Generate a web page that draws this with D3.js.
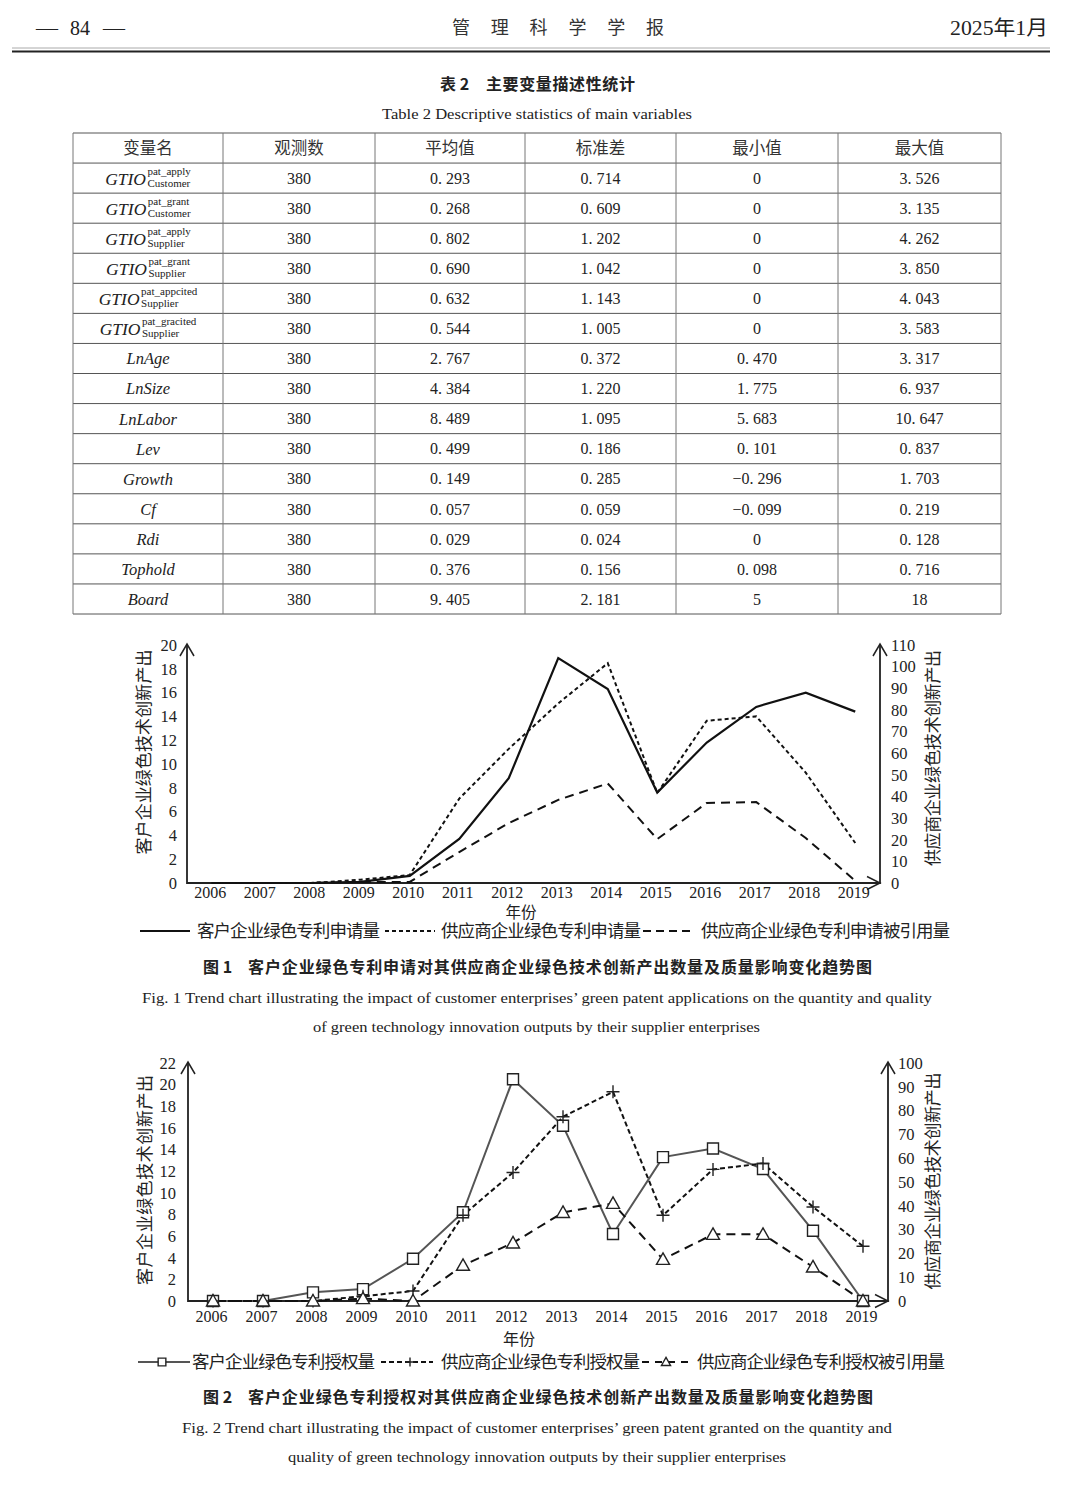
<!DOCTYPE html>
<html><head><meta charset="utf-8">
<script src="https://cdn.jsdelivr.net/npm/d3@7"></script>
<style>
body{margin:0;background:#fff;}
svg{display:block;}
</style></head>
<body><svg id="page" width="1079" height="1490"></svg>
<script>
// ---------------- DATA ----------------
const tableHeaders = ["变量名","观测数","平均值","标准差","最小值","最大值"];
const varBase = ["GTIO","GTIO","GTIO","GTIO","GTIO","GTIO","LnAge","LnSize","LnLabor","Lev","Growth","Cf","Rdi","Tophold","Board"];
const varSup  = ["pat_apply","pat_grant","pat_apply","pat_grant","pat_appcited","pat_gracited","","","","","","","","",""];
const varSub  = ["Customer","Customer","Supplier","Supplier","Supplier","Supplier","","","","","","","","",""];
const obsCount = ["380","380","380","380","380","380","380","380","380","380","380","380","380","380","380"];
const means = ["0.293","0.268","0.802","0.690","0.632","0.544","2.767","4.384","8.489","0.499","0.149","0.057","0.029","0.376","9.405"];
const sds   = ["0.714","0.609","1.202","1.042","1.143","1.005","0.372","1.220","1.095","0.186","0.285","0.059","0.024","0.156","2.181"];
const mins  = ["0","0","0","0","0","0","0.470","1.775","5.683","0.101","-0.296","-0.099","0","0.098","5"];
const maxs  = ["3.526","3.135","4.262","3.850","4.043","3.583","3.317","6.937","10.647","0.837","1.703","0.219","0.128","0.716","18"];

const years = ["2006","2007","2008","2009","2010","2011","2012","2013","2014","2015","2016","2017","2018","2019"];

// Figure 1 (applications)
const applyCustomer = [0,0,0,0.1,0.6,3.7,8.8,18.9,16.3,7.6,11.8,14.8,16.0,14.4];      // left axis
const applySupplier = [0,0,0,1.5,3.7,39,62,83,101.6,41.6,75,77,51,18.5];               // right axis
const applyCited    = [0,0,0,0.5,0.5,14.3,27.7,38.4,46,20.3,37,37.4,20.8,1];           // right axis
const fig1LeftTicks  = [0,2,4,6,8,10,12,14,16,18,20];
const fig1RightTicks = [0,10,20,30,40,50,60,70,80,90,100,110];

// Figure 2 (grants)
const grantCustomer = [0,0,0.8,1.1,3.9,8.2,20.5,16.2,6.2,13.3,14.1,12.2,6.5,0];        // left axis
const grantSupplier = [0,0,0,2,4.2,36,54,77.4,87.9,36,55.3,57.8,39.5,23];              // right axis
const grantCited    = [0,0,0,1,0,15,24.4,37.2,41,17.5,28,28,14.3,0];                   // right axis
const fig2LeftTicks  = [0,2,4,6,8,10,12,14,16,18,20,22];
const fig2RightTicks = [0,10,20,30,40,50,60,70,80,90,100];

// ---------------- DRAW ----------------
const SERIF = '"Liberation Serif","Times New Roman","Noto Sans CJK SC",serif';
const CJK = '"Noto Sans CJK SC","Noto Sans CJK JP",sans-serif';
const INK = "#222";
const svg = d3.select("#page");
svg.append("rect").attr("width",1079).attr("height",1490).attr("fill","#fff");

function txt(p, x, cy, s, o = {}) {
  const t = p.append("text").attr("x", x).attr("y", cy).attr("dy", o.dy || "0.36em")
    .attr("font-family", o.ff || SERIF).attr("font-size", o.fs || 16)
    .attr("fill", o.fill || INK).attr("text-anchor", o.anchor || "start")
    .attr("font-weight", o.fw || "normal").text(s);
  if (o.italic) t.attr("font-style", "italic");
  if (o.len) t.attr("textLength", o.len).attr("lengthAdjust", o.adj || "spacingAndGlyphs");
  return t;
}

// Header
txt(svg, 36, 28, "—", {fs: 20, len: 22});
txt(svg, 80, 28, "84", {fs: 20, anchor: "middle"});
txt(svg, 103, 28, "—", {fs: 20, len: 22});
txt(svg, 452, 28, "管理科学学报", {ff: CJK, fs: 18, len: 212, adj: "spacing", fill: "#333"});
txt(svg, 950, 28, "2025年1月", {fs: 20, len: 98, adj: "spacingAndGlyphs"});
svg.append("line").attr("x1", 12).attr("x2", 1050).attr("y1", 48).attr("y2", 48).attr("stroke", "#aaa").attr("stroke-width", 1);
svg.append("line").attr("x1", 12).attr("x2", 1050).attr("y1", 51.5).attr("y2", 51.5).attr("stroke", "#222").attr("stroke-width", 2);

// Table title
txt(svg, 440, 84, "表 2", {ff: CJK, fs: 16, fw: "bold"});
txt(svg, 486, 84, "主要变量描述性统计", {ff: CJK, fs: 16, fw: "bold", len: 149, adj: "spacing"});
txt(svg, 382, 113, "Table 2 Descriptive statistics of main variables", {fs: 15.5, len: 310});

// Table
const colX = [73, 223, 375, 525, 676, 838, 1001];
const tTop = 133, tBot = 614, nRows = 16, rowH = (tBot - tTop) / nRows;
const tg = svg.append("g");
d3.range(nRows + 1).forEach(i => {
  tg.append("line").attr("x1", colX[0]).attr("x2", colX[6]).attr("y1", tTop + i * rowH).attr("y2", tTop + i * rowH)
    .attr("stroke", "#555").attr("stroke-width", 1);
});
colX.forEach(cx => {
  tg.append("line").attr("x1", cx).attr("x2", cx).attr("y1", tTop).attr("y2", tBot).attr("stroke", "#777").attr("stroke-width", 1);
});
const colC = d3.range(6).map(i => (colX[i] + colX[i + 1]) / 2);
tableHeaders.forEach((h, i) => txt(tg, colC[i], tTop + rowH / 2, h, {ff: CJK, fs: 16.5, anchor: "middle", fill: "#333"}));
const fmt = s => s.replace(".", ". ").replace("-", "−");
const cols = [obsCount, means, sds, mins, maxs];
varBase.forEach((b, r) => {
  const cy = tTop + rowH * (r + 1.5);
  if (varSup[r]) {
    const g = tg.append("g");
    const t1 = g.append("text").attr("x", 0).attr("y", 6.5).attr("font-family", SERIF).attr("font-style", "italic").attr("font-size", 17.5).attr("fill", INK).text(b);
    const w1 = t1.node().getComputedTextLength();
    const t2 = g.append("text").attr("x", w1 + 1.5).attr("y", -3.5).attr("font-family", SERIF).attr("font-size", 11).attr("fill", INK).text(varSup[r]);
    const t3 = g.append("text").attr("x", w1 + 1.5).attr("y", 8.5).attr("font-family", SERIF).attr("font-size", 11).attr("fill", INK).text(varSub[r]);
    const tw = w1 + 1.5 + Math.max(t2.node().getComputedTextLength(), t3.node().getComputedTextLength());
    g.attr("transform", `translate(${colC[0] - tw / 2},${cy})`);
  } else {
    txt(tg, colC[0], cy, b, {fs: 16.5, italic: true, anchor: "middle"});
  }
  cols.forEach((arr, k) => txt(tg, colC[k + 1], cy, fmt(arr[r]), {fs: 16, anchor: "middle"}));
});

// ---------------- Charts ----------------
function chevronUp(g, x, y) {
  g.append("path").attr("d", `M${x - 7},${y + 12}L${x},${y}L${x + 7},${y + 12}`).attr("fill", "none").attr("stroke", INK).attr("stroke-width", 1.5);
}
function chevronRight(g, x, y) {
  g.append("path").attr("d", `M${x - 13},${y - 6.5}L${x},${y}L${x - 13},${y + 6.5}`).attr("fill", "none").attr("stroke", INK).attr("stroke-width", 1.5);
}
const markerPath = {
  square: "M-5.5,-5.5H5.5V5.5H-5.5Z",
  plus: "M-6.5,0H6.5M0,-6.5V6.5",
  tri: "M0,-6.5L6.5,5L-6.5,5Z"
};
function drawMarker(g, type, x, y, scale = 1) {
  const p = g.append("path").attr("d", markerPath[type]).attr("transform", `translate(${x},${y}) scale(${scale})`)
    .attr("stroke", "#222").attr("stroke-width", 1.4 / scale);
  p.attr("fill", type === "plus" ? "none" : "#fff");
}

function drawChart(c) {
  const g = svg.append("g");
  const bw = (c.x1 - c.x0) / years.length;
  const x = d3.scalePoint().domain(years).range([c.x0 + bw / 2, c.x1 - bw / 2]);
  const yL = d3.scaleLinear().domain([0, c.leftMax]).range([c.yBot, c.yTop]);
  const yR = d3.scaleLinear().domain([0, c.rightMax]).range([c.yBot, c.yTop]);

  // axes with labels
  const gl = g.append("g").attr("transform", `translate(${c.x0},0)`)
    .call(d3.axisLeft(yL).tickValues(c.leftTicks).tickSize(0).tickPadding(c.padL));
  gl.select(".domain").remove();
  gl.selectAll("text").attr("font-family", SERIF).attr("font-size", 16.5).attr("fill", INK);
  const gr = g.append("g").attr("transform", `translate(${c.x1},0)`)
    .call(d3.axisRight(yR).tickValues(c.rightTicks).tickSize(0).tickPadding(c.padR));
  gr.select(".domain").remove();
  gr.selectAll("text").attr("font-family", SERIF).attr("font-size", 16.5).attr("fill", INK);
  const gx = g.append("g").attr("transform", `translate(-2,${c.yBot})`)
    .call(d3.axisBottom(x).tickSize(0).tickPadding(c.padX));
  gx.select(".domain").remove();
  gx.selectAll("text").attr("font-family", SERIF).attr("font-size", 16).attr("fill", INK);

  // axis lines + arrows
  g.append("path").attr("d", `M${c.x0},${c.yTop - 1}V${c.yBot}H${c.x1}V${c.yTop - 1}`).attr("fill", "none").attr("stroke", INK).attr("stroke-width", 1.8);
  chevronUp(g, c.x0, c.yTop - 1);
  chevronUp(g, c.x1, c.yTop - 1);
  chevronRight(g, c.x1, c.yBot);

  // axis titles
  txt(g, 0, 0, "客户企业绿色技术创新产出", {ff: CJK, fs: 17, anchor: "middle", len: c.lblLenL, adj: "spacing"})
    .attr("transform", `translate(${c.lblXL},${c.lblYL}) rotate(-90)`);
  txt(g, 0, 0, "供应商企业绿色技术创新产出", {ff: CJK, fs: 17, anchor: "middle", len: c.lblLenR, adj: "spacing"})
    .attr("transform", `translate(${c.lblXR},${c.lblYR}) rotate(-90)`);
  txt(g, c.yearX, c.yearY, "年份", {ff: SERIF, fs: c.yearFs, anchor: "middle"});

  // series
  c.series.forEach(s => {
    const ys = s.axis === "L" ? yL : yR;
    const line = d3.line().x((d, i) => x(years[i])).y(d => ys(d));
    g.append("path").datum(s.values).attr("d", line).attr("fill", "none")
      .attr("stroke", s.color).attr("stroke-width", s.width).attr("stroke-dasharray", s.dash || null)
      .attr("stroke-linejoin", "miter");
  });
  c.series.forEach(s => {
    if (!s.marker) return;
    const ys = s.axis === "L" ? yL : yR;
    s.values.forEach((v, i) => drawMarker(g, s.marker, x(years[i]), ys(v)));
  });

  // legend
  c.series.forEach(s => {
    const L = s.legend;
    g.append("line").attr("x1", L.x1).attr("x2", L.x2).attr("y1", c.legY).attr("y2", c.legY)
      .attr("stroke", s.color).attr("stroke-width", s.width).attr("stroke-dasharray", L.dash || s.dash || null);
    if (s.marker) drawMarker(g, s.marker, L.mx, c.legY, 0.7);
    txt(g, L.tx, c.legY, s.name, {ff: SERIF, fs: 17.5, len: L.tlen, adj: "spacing"});
  });

  // captions
  txt(g, 203, c.capY, c.figNo, {ff: CJK, fs: 16, fw: "bold"});
  txt(g, 248, c.capY, c.capCn, {ff: CJK, fs: 16, fw: "bold", len: c.capCnLen, adj: "spacing"});
  c.capEn.forEach((t, i) => txt(g, c.capEnX[i], c.capY + 30 + i * 29, t, {fs: 15.5, len: c.capEnLen[i]}));
}

drawChart({
  x0: 187, x1: 880, yTop: 645, yBot: 883, leftMax: 20, rightMax: 110,
  leftTicks: fig1LeftTicks, rightTicks: fig1RightTicks, padL: 10, padR: 11, padX: 4,
  lblXL: 144, lblYL: 752, lblLenL: 205, lblXR: 933, lblYR: 758, lblLenR: 216,
  yearX: 521, yearY: 912, yearFs: 15.5, legY: 931,
  series: [
    {name: "客户企业绿色专利申请量", values: applyCustomer, axis: "L", color: "#111", width: 2.2,
      legend: {x1: 140, x2: 190, tx: 197, tlen: 183}},
    {name: "供应商企业绿色专利申请量", values: applySupplier, axis: "R", color: "#111", width: 2, dash: "4,3",
      legend: {x1: 385, x2: 435, tx: 441, tlen: 200}},
    {name: "供应商企业绿色专利申请被引用量", values: applyCited, axis: "R", color: "#111", width: 2, dash: "9,6",
      legend: {x1: 643, x2: 695, tx: 701, tlen: 249, dash: "8,5"}}
  ],
  capY: 967, figNo: "图 1", capCnLen: 624,
  capCn: "客户企业绿色专利申请对其供应商企业绿色技术创新产出数量及质量影响变化趋势图",
  capEn: ["Fig. 1 Trend chart illustrating the impact of customer enterprises’ green patent applications on the quantity and quality",
          "of green technology innovation outputs by their supplier enterprises"],
  capEnX: [142, 313], capEnLen: [790, 447]
});

drawChart({
  x0: 188, x1: 888, yTop: 1063, yBot: 1301, leftMax: 22, rightMax: 100,
  leftTicks: fig2LeftTicks, rightTicks: fig2RightTicks, padL: 12, padR: 10, padX: 10,
  lblXL: 145, lblYL: 1180, lblLenL: 210, lblXR: 933, lblYR: 1181, lblLenR: 217,
  yearX: 519, yearY: 1339, yearFs: 16, legY: 1362,
  series: [
    {name: "客户企业绿色专利授权量", values: grantCustomer, axis: "L", color: "#555", width: 2, marker: "square",
      legend: {x1: 138, x2: 190, mx: 162, tx: 192, tlen: 183}},
    {name: "供应商企业绿色专利授权量", values: grantSupplier, axis: "R", color: "#111", width: 2, dash: "5,3", marker: "plus",
      legend: {x1: 381, x2: 433, mx: 410, tx: 441, tlen: 199}},
    {name: "供应商企业绿色专利授权被引用量", values: grantCited, axis: "R", color: "#111", width: 2, dash: "9,6", marker: "tri",
      legend: {x1: 642, x2: 693, mx: 666, tx: 697, tlen: 248, dash: "7,6"}}
  ],
  capY: 1397, figNo: "图 2", capCnLen: 625,
  capCn: "客户企业绿色专利授权对其供应商企业绿色技术创新产出数量及质量影响变化趋势图",
  capEn: ["Fig. 2 Trend chart illustrating the impact of customer enterprises’ green patent granted on the quantity and",
          "quality of green technology innovation outputs by their supplier enterprises"],
  capEnX: [182, 288], capEnLen: [710, 498]
});
</script>
</body></html>
